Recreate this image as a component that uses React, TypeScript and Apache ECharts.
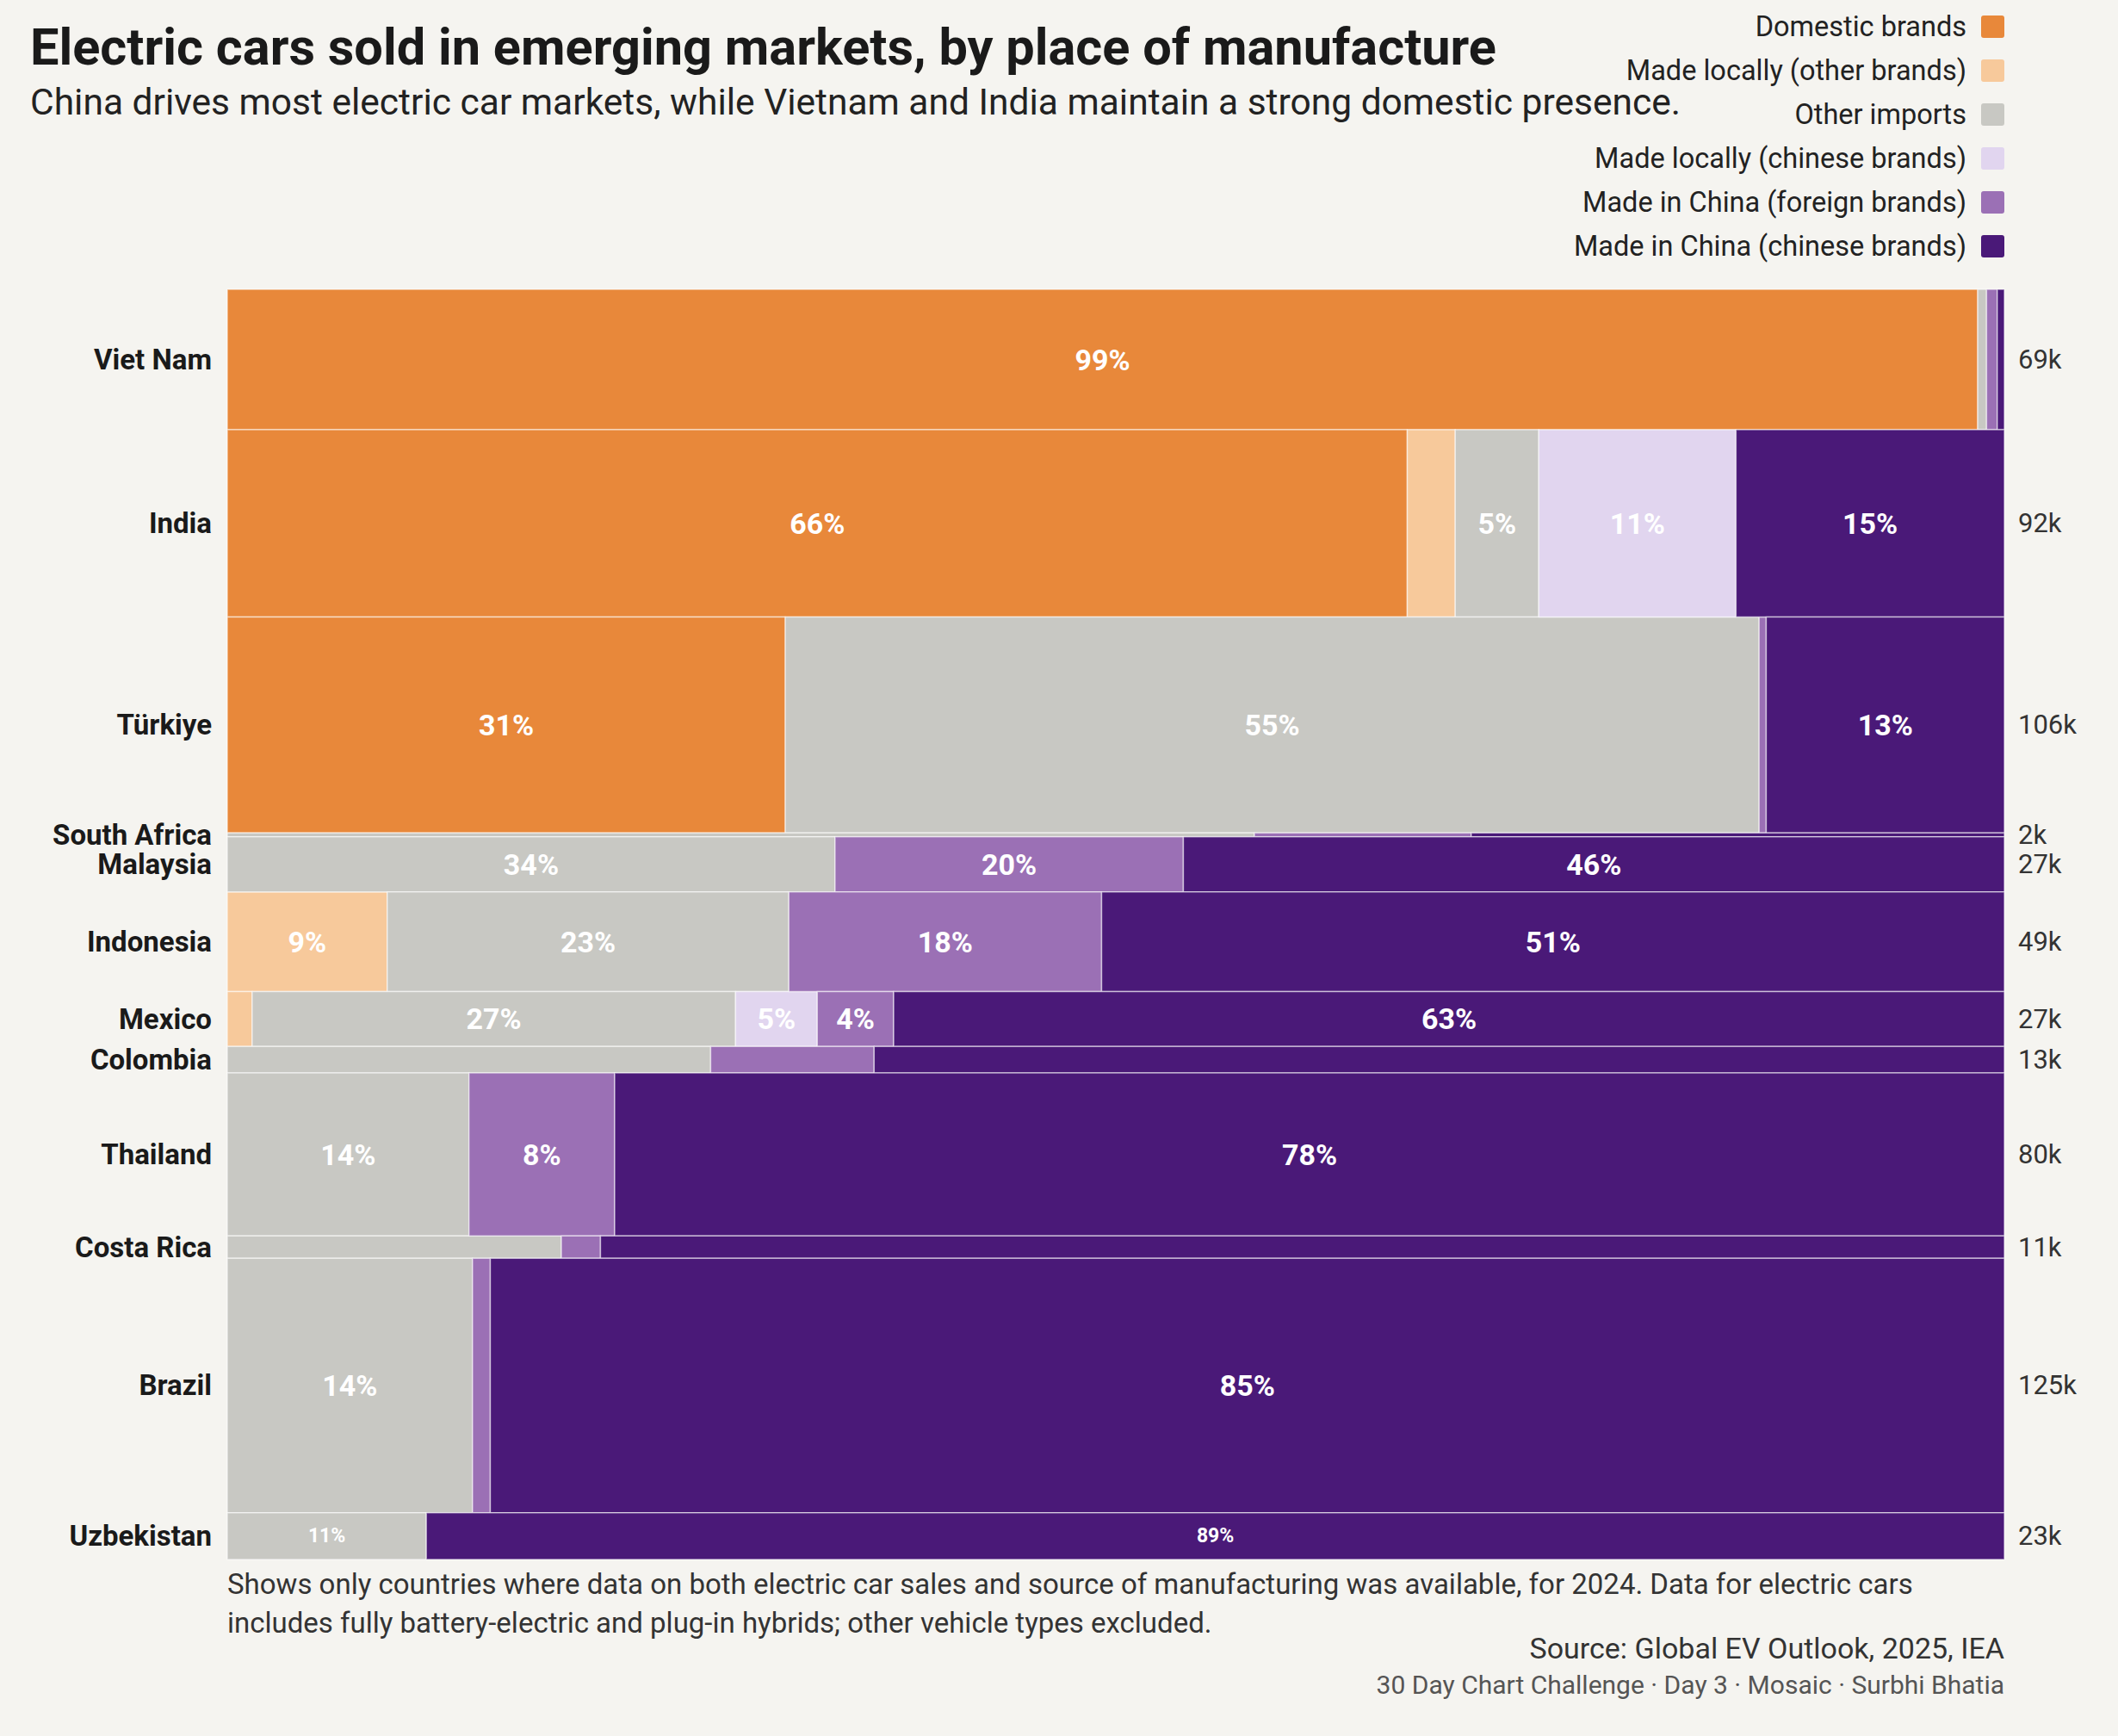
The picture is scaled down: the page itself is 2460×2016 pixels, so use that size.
import React, { useEffect, useRef } from 'react';
import * as echarts from 'echarts';

// Electric car sales in 2024 by market, split by where the cars were made.
const countries = [
  'Viet Nam', 'India', 'Türkiye', 'South Africa', 'Malaysia', 'Indonesia',
  'Mexico', 'Colombia', 'Thailand', 'Costa Rica', 'Brazil', 'Uzbekistan',
];
// Total electric car sales, thousands
const salesK = [69, 92, 106, 2, 27, 49, 27, 13, 80, 11, 125, 23];

const categories = [
  'Domestic brands',
  'Made locally (other brands)',
  'Other imports',
  'Made locally (chinese brands)',
  'Made in China (foreign brands)',
  'Made in China (chinese brands)',
];
const colors = ['#E8883A', '#F7C99B', '#C8C8C3', '#E1D5EF', '#9B70B5', '#4A1978'];

// Share of each market's sales (%), one array per category, in country order
const domesticBrands = [98.5, 66.4, 31.4, 0, 0, 0, 0, 0, 0, 0, 0, 0];
const madeLocallyOther = [0, 2.7, 0, 0, 0, 9.0, 1.4, 0, 0, 0, 0, 0];
const otherImports = [0.5, 4.7, 54.8, 57.8, 34.2, 22.6, 27.2, 27.2, 13.6, 18.8, 13.8, 11.2];
const madeLocallyChinese = [0, 11.1, 0, 0, 0, 0, 4.6, 0, 0, 0, 0, 0];
const madeInChinaForeign = [0.6, 0, 0.4, 12.2, 19.6, 17.6, 4.3, 9.2, 8.2, 2.2, 1.0, 0];
const madeInChinaChinese = [0.4, 15.1, 13.4, 30.0, 46.2, 50.8, 62.5, 63.6, 78.2, 79.0, 85.2, 88.8];

const shares = [
  domesticBrands, madeLocallyOther, otherImports,
  madeLocallyChinese, madeInChinaForeign, madeInChinaChinese,
];

const title = 'Electric cars sold in emerging markets, by place of manufacture';
const subtitle = 'China drives most electric car markets, while Vietnam and India maintain a strong domestic presence.';
const noteLines = [
  'Shows only countries where data on both electric car sales and source of manufacturing was available, for 2024. Data for electric cars',
  'includes fully battery-electric and plug-in hybrids; other vehicle types excluded.',
];
const sourceText = 'Source: Global EV Outlook, 2025, IEA';
const creditText = '30 Day Chart Challenge · Day 3 · Mosaic · Surbhi Bhatia';

const FONT = 'Roboto, "Noto Sans", sans-serif';
const W = 2460;
const H = 2016;
const GRID = { left: 264, right: 132, top: 336, bottom: 205 };

export default function App() {
  const ref = useRef<HTMLDivElement>(null);

  useEffect(() => {
    document.body.style.margin = '0';
    document.body.style.background = '#F5F4F0';
    if (!ref.current) return;
    const chart = echarts.init(ref.current, undefined, { renderer: 'svg' });

    // cumulative start of each row along the sales axis
    const rowStart: number[] = [];
    let acc = 0;
    salesK.forEach((s) => { rowStart.push(acc); acc += s; });
    const totalK = acc;

    const segmentSeries = categories.map((name, ci) => {
      const data: number[][] = [];
      countries.forEach((_, ri) => {
        const v = shares[ci][ri];
        if (!v) return;
        let x0 = 0;
        for (let k = 0; k < ci; k++) x0 += shares[k][ri];
        data.push([x0, x0 + v, rowStart[ri], rowStart[ri] + salesK[ri], v, salesK[ri], ri]);
      });
      return {
        type: 'custom',
        name,
        coordinateSystem: 'cartesian2d',
        encode: { x: [0, 1], y: [2, 3] },
        data,
        renderItem: (_params: any, api: any) => {
          const a = api.coord([api.value(0), api.value(2)]);
          const b = api.coord([api.value(1), api.value(3)]);
          const w = b[0] - a[0];
          const h = b[1] - a[1];
          const pct = api.value(4);
          const sales = api.value(5);
          const children: any[] = [{
            type: 'rect',
            shape: { x: a[0], y: a[1], width: w, height: h },
            style: { fill: colors[ci], stroke: 'rgba(255,255,255,0.55)', lineWidth: 1.5 },
          }];
          // percentage labels only where the tile is big enough to hold them
          if (sales >= 20 && pct >= 4) {
            children.push({
              type: 'text',
              x: a[0] + w / 2,
              y: a[1] + h / 2,
              style: {
                text: `${Math.round(pct)}%`,
                fill: '#FFFFFF',
                fontFamily: FONT,
                fontWeight: 'bold',
                fontSize: h < 60 ? 23 : 34,
                align: 'center',
                verticalAlign: 'middle',
              },
            });
          }
          return { type: 'group', children };
        },
      };
    });

    const rowLabelSeries = {
      type: 'custom',
      name: 'rows',
      coordinateSystem: 'cartesian2d',
      encode: { y: [0, 1] },
      data: countries.map((_, i) => [rowStart[i], rowStart[i] + salesK[i], salesK[i], i]),
      renderItem: (_params: any, api: any) => {
        const i = api.value(3);
        const mid = (api.value(0) + api.value(1)) / 2;
        const L = api.coord([0, mid]);
        const R = api.coord([100, mid]);
        return {
          type: 'group',
          children: [
            {
              type: 'text', x: L[0] - 18, y: L[1],
              style: {
                text: countries[i], fill: '#1A1A1A', fontFamily: FONT, fontWeight: 'bold',
                fontSize: 33, align: 'right', verticalAlign: 'middle',
              },
            },
            {
              type: 'text', x: R[0] + 16, y: R[1],
              style: {
                text: `${api.value(2)}k`, fill: '#333333', fontFamily: FONT,
                fontSize: 31, align: 'left', verticalAlign: 'middle',
              },
            },
          ],
        };
      },
    };

    const legendItems: any[] = [];
    categories.forEach((name, i) => {
      const cy = 31 + i * 51;
      legendItems.push({
        type: 'rect',
        shape: { x: 2301, y: cy - 13, width: 27, height: 26, r: 3 },
        style: { fill: colors[i] },
      });
      legendItems.push({
        type: 'text', x: 2284, y: cy,
        style: {
          text: name, fill: '#222222', fontFamily: FONT, fontSize: 32.5,
          align: 'right', verticalAlign: 'middle',
        },
      });
    });

    chart.setOption({
      animation: false,
      backgroundColor: '#F5F4F0',
      grid: { ...GRID, containLabel: false },
      xAxis: { type: 'value', min: 0, max: 100, show: false },
      yAxis: { type: 'value', min: 0, max: totalK, inverse: true, show: false },
      series: [...segmentSeries, rowLabelSeries],
      graphic: [
        {
          type: 'text', x: 35, y: 55,
          style: {
            text: title, fill: '#1A1A1A', fontFamily: FONT, fontWeight: 'bold',
            fontSize: 59.5, verticalAlign: 'middle',
          },
        },
        {
          type: 'text', x: 35, y: 118,
          style: {
            text: subtitle, fill: '#222222', fontFamily: FONT,
            fontSize: 42.5, verticalAlign: 'middle',
          },
        },
        ...legendItems,
        ...noteLines.map((t, i) => ({
          type: 'text', x: 264, y: 1839 + i * 45,
          style: { text: t, fill: '#333333', fontFamily: FONT, fontSize: 33, verticalAlign: 'middle' },
        })),
        {
          type: 'text', x: 2328, y: 1914,
          style: {
            text: sourceText, fill: '#333333', fontFamily: FONT, fontSize: 34,
            align: 'right', verticalAlign: 'middle',
          },
        },
        {
          type: 'text', x: 2328, y: 1956,
          style: {
            text: creditText, fill: '#555555', fontFamily: FONT, fontSize: 30,
            align: 'right', verticalAlign: 'middle',
          },
        },
      ],
    });

    return () => chart.dispose();
  }, []);

  return <div ref={ref} style={{ width: W, height: H }} />;
}
